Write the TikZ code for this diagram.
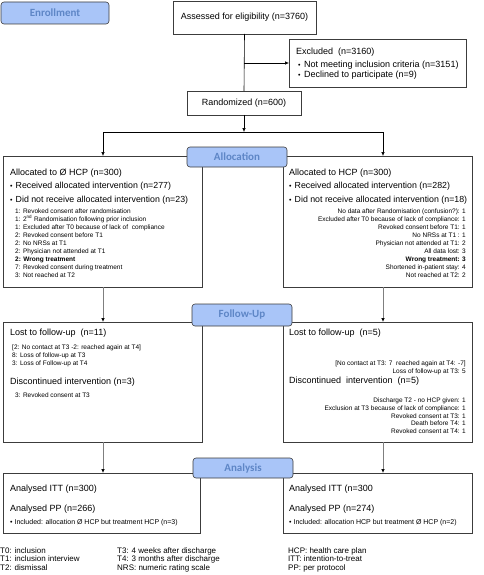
\documentclass[tikz,border=0pt]{standalone}
\usepackage{fontspec}
\setmainfont{Liberation Sans}
\newfontfamily\labfont{Carlito}
\usetikzlibrary{arrows.meta}
\definecolor{lblue}{HTML}{A9C5F8}
\definecolor{labtxt}{HTML}{5E86C6}
\definecolor{bord}{HTML}{3C3C3C}
\definecolor{lgray}{HTML}{7F7F7F}
\tikzset{
  box/.style={draw=bord, line width=0.6pt, fill=white, inner sep=0pt, outer sep=0pt, anchor=north west},
  phase/.style={draw=bord, line width=0.6pt, fill=lblue, rounded corners=3pt, inner sep=0pt, outer sep=0pt,
     anchor=north west, text=labtxt, font=\labfont\bfseries\fontsize{11}{12}\selectfont},
  tx/.style={anchor=base west, inner sep=0pt, font=\fontsize{9}{10}\selectfont},
  tb/.style={anchor=base west, inner sep=0pt, font=\fontsize{8.8}{10}\selectfont},
  bul/.style={anchor=base west, inner sep=0pt, font=\fontsize{7}{8}\selectfont},
  ts/.style={anchor=base west, inner sep=0pt, font=\fontsize{6.5}{7}\selectfont},
  tsa/.style={anchor=base west, inner sep=0pt, font=\fontsize{7}{8}\selectfont},
  tsr/.style={anchor=base east, inner sep=0pt, font=\fontsize{6.5}{7}\selectfont},
  tl/.style={anchor=base west, inner sep=0pt, font=\fontsize{8}{9}\selectfont},
  con/.style={draw=black, line width=0.6pt},
  arr/.style={draw=black, line width=0.6pt, -{Latex[length=4pt,width=3.5pt,color=black]}},
  garr/.style={draw=lgray, line width=0.7pt, -{Latex[length=4pt,width=3.5pt,color=black]}},
}
\begin{document}
\begin{tikzpicture}[x=1pt,y=-1pt]
\useasboundingbox (0,0) rectangle (483,575);
% ---------- boxes ----------
\node[box, minimum width=143, minimum height=33, font=\fontsize{9}{10}\selectfont] (assess) at (173,1) {Assessed for eligibility (n=3760)};
\node[box, minimum width=177, minimum height=48] (excl) at (289,39) {};
\node[box, minimum width=114, minimum height=24, font=\fontsize{9}{10}\selectfont] (rand) at (187,91) {Randomized (n=600)};
\node[box, minimum width=199, minimum height=131] (allocL) at (3,156) {};
\node[box, minimum width=189, minimum height=131] (allocR) at (283,156) {};
\node[box, minimum width=199, minimum height=120] (fuL) at (3,322) {};
\node[box, minimum width=189, minimum height=120] (fuR) at (283,322) {};
\node[box, minimum width=197, minimum height=60] (anL) at (3,473) {};
\node[box, minimum width=189, minimum height=60] (anR) at (283,473) {};
% ---------- connectors ----------
\coordinate (exj) at (244,63);
\coordinate (brM) at (244,132);
\coordinate (brL) at (103,132);
\coordinate (brR) at (383,132);
\coordinate (cL) at (103,0);
\coordinate (cR) at (383,0);
\draw[con] (assess.south) -- (rand.north);
\draw[arr] (exj) -- (excl.west);
\draw[arr] (rand.south) -- (brM);
\draw[con] (brL) -- (brR);
\draw[arr] (brL) -- (allocL.north -| brL);
\draw[arr] (brR) -- (allocR.north -| brR);
\draw[garr] (allocL.south -| cL) -- (fuL.north -| cL);
\draw[garr] (allocR.south -| cR) -- (fuR.north -| cR);
\draw[garr] (fuL.south -| cL) -- (anL.north -| cL);
\draw[garr] (fuR.south -| cR) -- (anR.north -| cR);
% ---------- excluded text ----------
\node[tx] (ex1) at (296,55) {Excluded\ \ (n=3160)};
\node[bul] (exb1) at (298,67.5) {•};
\node[tx] (ex2) at (304,68) {Not meeting inclusion criteria (n=3151)};
\node[bul] (exb2) at (298,77.5) {•};
\node[tx] (ex3) at (304,78) {Declined to participate (n=9)};
% ---------- allocation left ----------
\node[tx] (aL0) at (10,175) {Allocated to Ø HCP (n=300)};
\node[bul] (aLb1) at (10,188) {•};
\node[tb] (aL1) at (15.5,188) {Received allocated intervention (n=277)};
\node[bul] (aLb2) at (10,202) {•};
\node[tb] (aL2) at (15.5,202) {Did not receive allocated intervention (n=23)};
\node[ts] (aL3) at (15,213.5) {1: Revoked consent after randomisation};
\node[ts] (aL4) at (15,221.5) {1: 2\textsuperscript{nd} Randomisation following prior inclusion};
\node[ts] (aL5) at (15,229.5) {1: Excluded after T0 because of lack of\ \ compliance};
\node[ts] (aL6) at (15,237.5) {2: Revoked consent before T1};
\node[ts] (aL7) at (15,245.5) {2: No NRSs at T1};
\node[ts] (aL8) at (15,253.5) {2: Physician not attended at T1};
\node[ts] (aL9) at (15,261.5) {\bfseries 2: Wrong treatment};
\node[ts] (aL10) at (15,269.5) {7: Revoked consent during treatment};
\node[ts] (aL11) at (15,277.5) {3: Not reached at T2};
% ---------- allocation right ----------
\node[tx] (aR0) at (289,175) {Allocated to HCP (n=300)};
\node[bul] (aRb1) at (289,188) {•};
\node[tb] (aR1) at (294.5,188) {Received allocated intervention (n=282)};
\node[bul] (aRb2) at (289,202) {•};
\node[tb] (aR2) at (294.5,202) {Did not receive allocated intervention (n=18)};
\node[tsr] (aR3) at (466,213.5) {No data after Randomisation (confusion?): 1};
\node[tsr] (aR4) at (466,221.5) {Excluded after T0 because of lack of compliance: 1};
\node[tsr] (aR5) at (466,229.5) {Revoked consent before T1: 1};
\node[tsr] (aR6) at (466,237.5) {No NRSs at T1 : 1};
\node[tsr] (aR7) at (466,245.5) {Physician not attended at T1: 2};
\node[tsr] (aR8) at (466,253.5) {All data lost: 3};
\node[tsr] (aR9) at (466,261.5) {\bfseries Wrong treatment: 3};
\node[tsr] (aR10) at (466,269.5) {Shortened in-patient stay: 4};
\node[tsr] (aR11) at (466,277.5) {Not reached at T2: 2};
% ---------- follow-up left ----------
\node[tx] (fL0) at (10,335) {Lost to follow-up\ \ (n=11)};
\node[ts] (fL1) at (12,349.5) {[2: No contact at T3 -2: reached again at T4]};
\node[ts] (fL2) at (12,357.5) {8: Loss of follow-up at T3};
\node[ts] (fL3) at (12,365.5) {3: Loss of Follow-up at T4};
\node[tx] (fL4) at (10,384) {Discontinued\ intervention\ (n=3)};
\node[ts] (fL5) at (15,397.5) {3: Revoked consent at T3};
% ---------- follow-up right ----------
\node[tx] (fR0) at (289,335) {Lost to follow-up\ \ (n=5)};
\node[tsr] (fR1) at (466,365) {[No contact at T3: 7\ \ reached again at T4: -7]};
\node[tsr] (fR2) at (466,373) {Loss of follow-up at T3: 5};
\node[tx] (fR3) at (289,383) {Discontinued\ \ intervention\ \ (n=5)};
\node[tsr] (fR4) at (466,402.5) {Discharge T2 - no HCP given: 1};
\node[tsr] (fR5) at (466,410.3) {Exclusion at T3 because of lack of compliance: 1};
\node[tsr] (fR6) at (466,418) {Revoked consent at T3: 1};
\node[tsr] (fR7) at (466,425.8) {Death before T4: 1};
\node[tsr] (fR8) at (466,433.5) {Revoked consent at T4: 1};
% ---------- analysis ----------
\node[tx] (nL0) at (10,491) {Analysed ITT (n=300)};
\node[tx] (nL1) at (10,511) {Analysed PP (n=266)};
\node[tsa] (nL2) at (10,524.5) {• Included: allocation Ø HCP but treatment HCP (n=3)};
\node[tx] (nR0) at (289,491) {Analysed ITT (n=300};
\node[tx] (nR1) at (289,511) {Analysed PP (n=274)};
\node[tsa] (nR2) at (289,524.5) {• Included: allocation HCP but treatment Ø HCP (n=2)};
% ---------- legend ----------
\node[tl] (g1) at (0,553) {T0: inclusion};
\node[tl] (g2) at (0,561.5) {T1: inclusion interview};
\node[tl] (g3) at (0,570) {T2: dismissal};
\node[tl] (g4) at (117,553) {T3: 4 weeks after discharge};
\node[tl] (g5) at (117,561.5) {T4: 3 months after discharge};
\node[tl] (g6) at (117,570) {NRS: numeric rating scale};
\node[tl] (g7) at (288,553) {HCP: health care plan};
\node[tl] (g8) at (288,561.5) {ITT: intention-to-treat};
\node[tl] (g9) at (288,570) {PP: per protocol};
% ---------- phase labels ----------
\node[phase, minimum width=108, minimum height=22] (enr) at (1,2) {Enrollment};
\node[phase, minimum width=100, minimum height=20] (alo) at (187,147) {Allocation};
\node[phase, minimum width=100, minimum height=22] (fol) at (192,304) {Follow-Up};
\node[phase, minimum width=100, minimum height=20] (ana) at (193,458) {Analysis};
\end{tikzpicture}
\end{document}
